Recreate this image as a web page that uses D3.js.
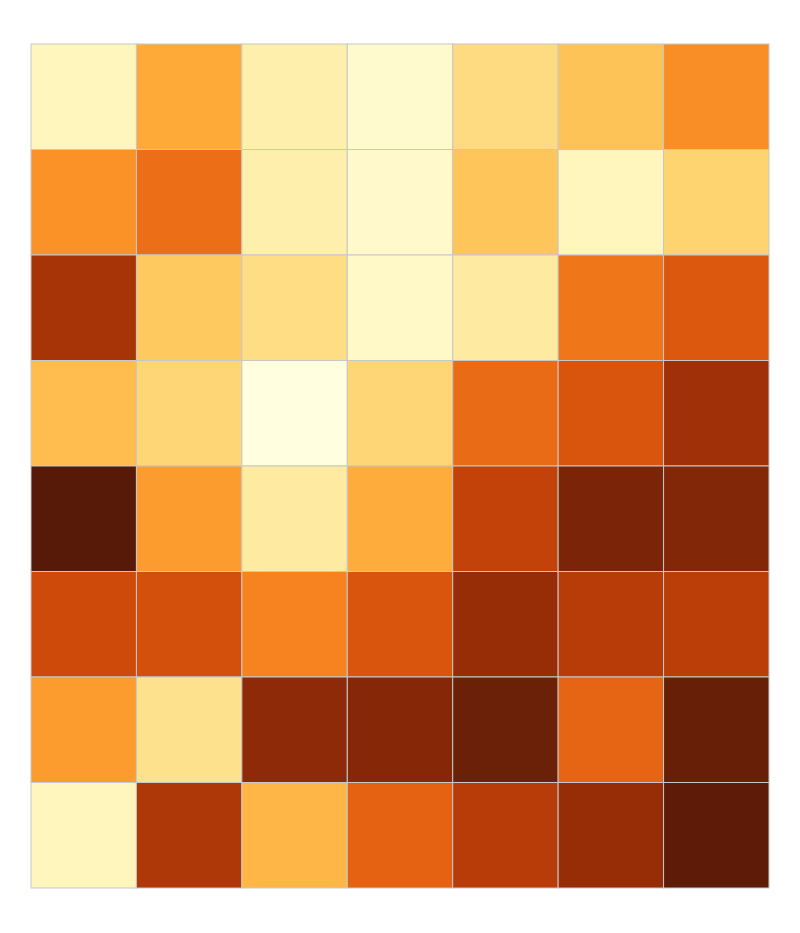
<!DOCTYPE html>
<html>
<head>
<meta charset="utf-8">
<script src="https://cdn.jsdelivr.net/npm/d3@7"></script>
<style>
  body { margin: 0; background: #fff; }
</style>
</head>
<body>
<div id="chart"></div>
<script>
// columns and rows of the grid
const columns = ["c0", "c1", "c2", "c3", "c4", "c5", "c6"];
const rows = ["r0", "r1", "r2", "r3", "r4", "r5", "r6", "r7"];

// cell values, one array per row
const row0 = [0.12, 0.45, 0.17, 0.07, 0.28, 0.37, 0.53];
const row1 = [0.52, 0.62, 0.17, 0.08, 0.36, 0.12, 0.31];
const row2 = [0.84, 0.35, 0.27, 0.09, 0.20, 0.60, 0.69];
const row3 = [0.39, 0.30, 0.02, 0.30, 0.63, 0.70, 0.86];
const row4 = [1.08, 0.49, 0.20, 0.44, 0.77, 0.95, 0.93];
const row5 = [0.74, 0.72, 0.56, 0.70, 0.88, 0.80, 0.79];
const row6 = [0.49, 0.25, 0.90, 0.92, 1.00, 0.65, 1.01];
const row7 = [0.12, 0.82, 0.41, 0.66, 0.80, 0.88, 1.05];
const values = [row0, row1, row2, row3, row4, row5, row6, row7];

const dimensions = {
  width: 800,
  height: 933,
  left: 31,
  top: 44,
  right: 31,
  bottom: 45,
};
dimensions.ctrWidth = dimensions.width - dimensions.left - dimensions.right;
dimensions.ctrHeight = dimensions.height - dimensions.top - dimensions.bottom;

const svg = d3
  .select("#chart")
  .append("svg")
  .attr("width", dimensions.width)
  .attr("height", dimensions.height);

const ctr = svg
  .append("g")
  .attr("transform", `translate(${dimensions.left}, ${dimensions.top})`);

const xScale = d3.scaleBand().domain(columns).range([0, dimensions.ctrWidth]);
const yScale = d3.scaleBand().domain(rows).range([0, dimensions.ctrHeight]);

// YlOrBr-like ramp, a little redder in the dark end, extra stop past 1
const color = d3
  .scaleSequential(
    d3.interpolateRgbBasis([
      "#ffffe5", "#fff7bc", "#fee391", "#fec44f", "#fe9929",
      "#ee6c16", "#cd4508", "#982c07", "#661f08", "#4f1608",
    ])
  )
  .domain([0, 1.125]);

const cells = values.flatMap((vals, ri) =>
  vals.map((v, ci) => ({ row: rows[ri], col: columns[ci], value: v }))
);

ctr
  .selectAll("rect")
  .data(cells)
  .join("rect")
  .attr("x", (d) => xScale(d.col))
  .attr("y", (d) => yScale(d.row))
  .attr("width", xScale.bandwidth())
  .attr("height", yScale.bandwidth())
  .attr("fill", (d) => color(d.value))
  .attr("stroke", "#c8c8c8")
  .attr("stroke-width", 1);
</script>
</body>
</html>
